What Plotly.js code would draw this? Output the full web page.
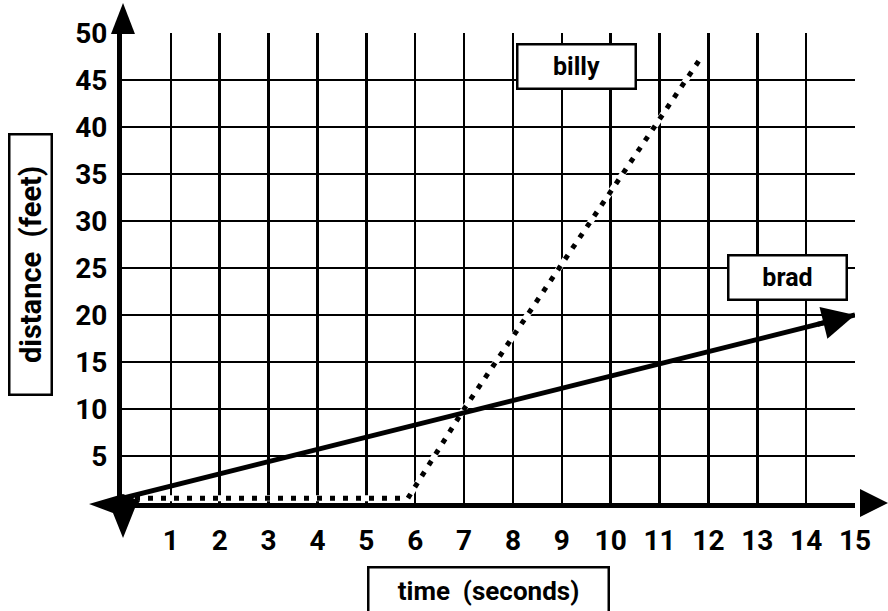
<!DOCTYPE html>
<html>
<head>
<meta charset="utf-8">
<script src="https://cdn.plot.ly/plotly-3.0.1.min.js"></script>
<style>html,body{margin:0;padding:0;background:#fff;}#chart{width:888px;height:611px;}</style>
</head>
<body>
<div id="chart"></div>
<script>
// ---- data ----
const bradX = [0, 15];
const bradY = [0.5, 20];
const billyX = [0, 5.85, 7, 11.8];
const billyY = [0.5, 0.5, 10, 47];
const xTicks = [1,2,3,4,5,6,7,8,9,10,11,12,13,14,15];
const yTicks = [5,10,15,20,25,30,35,40,45,50];
const labels = ['billy', 'brad'];
const labelPos = [[9.3, 46.4], [13.62, 24.0]];
const xTitle = 'time  (seconds)';
const yTitle = 'distance  (feet)';

// ---- layout geometry ----
const W = 888, H = 611;
const M = {l: 122, r: 33, t: 33, b: 108};
const pw = W - M.l - M.r, ph = H - M.t - M.b;
const px = v => (v - M.l) / pw;
const py = v => (H - M.b - v) / ph;
function path(pts){ return 'M ' + pts.map(p => px(p[0]).toFixed(4) + ',' + py(p[1]).toFixed(4)).join(' L ') + ' Z'; }

const FONT = 'Roboto, "DejaVu Sans", sans-serif';

const traces = [
  {x: billyX, y: billyY, mode: 'lines', line: {color: 'white', width: 6}, hoverinfo: 'skip', showlegend: false},
  {x: billyX, y: billyY, mode: 'lines', line: {color: 'black', width: 5, dash: '5px,8px'}, showlegend: false},
  {x: bradX, y: bradY, mode: 'lines', line: {color: 'black', width: 5}, showlegend: false}
];

const annotations = [
  {x: bradX[1], y: bradY[1], ax: bradX[1] - 0.8, ay: bradY[1] - 0.8*(bradY[1]-bradY[0])/(bradX[1]-bradX[0]),
   axref: 'x', ayref: 'y', xref: 'x', yref: 'y', showarrow: true, arrowhead: 2, arrowsize: 1.3, arrowwidth: 5, arrowcolor: 'black', text: ''}
];
labels.forEach((t, i) => {
  annotations.push({x: labelPos[i][0], y: labelPos[i][1], xref: 'x', yref: 'y', text: t, showarrow: false,
    font: {family: FONT, size: 25, color: 'black', weight: 'bold'}, bgcolor: 'white', bordercolor: 'black', borderwidth: 2.5,
    width: 112, height: 38, borderpad: 2, xanchor: 'center', yanchor: 'middle'});
});
annotations.push({x: px(488.5), y: py(590), xref: 'paper', yref: 'paper', text: xTitle, showarrow: false,
  font: {family: FONT, size: 26, color: 'black', weight: 'bold'}, bgcolor: 'white', bordercolor: 'black', borderwidth: 2.5,
  width: 234, height: 40, borderpad: 2, xanchor: 'center', yanchor: 'middle'});
annotations.push({x: px(30.5), y: py(264.5), xref: 'paper', yref: 'paper', text: yTitle, showarrow: false,
  textangle: -90, font: {family: FONT, size: 29, color: 'black', weight: 'bold'}, bgcolor: 'white', bordercolor: 'black', borderwidth: 2.5,
  width: 254, height: 36, borderpad: 2, xanchor: 'center', yanchor: 'middle'});

const shapes = [
  {type: 'path', xref: 'paper', yref: 'paper', path: path([[123,3],[135,34],[111,34]]), fillcolor: 'black', line: {width: 0}},
  {type: 'path', xref: 'paper', yref: 'paper', path: path([[888,503],[860,517],[860,489]]), fillcolor: 'black', line: {width: 0}},
  {type: 'path', xref: 'paper', yref: 'paper', path: path([[89,504],[123,494],[140,501],[135,508],[123,538],[113,513]]), fillcolor: 'black', line: {width: 0}}
];

const axisCommon = {showline: true, linecolor: 'black', linewidth: 5, showgrid: true, gridcolor: 'black', gridwidth: 2.5,
  zeroline: false, ticks: '', tickfont: {family: FONT, size: 28, color: 'black', weight: 'bold'}, fixedrange: true};

const layout = {
  width: W, height: H, margin: M, paper_bgcolor: 'white', plot_bgcolor: 'white', showlegend: false,
  xaxis: Object.assign({}, axisCommon, {range: [0, 15], tickvals: xTicks, ticktext: xTicks.map(String), ticklabelstandoff: 8}),
  yaxis: Object.assign({}, axisCommon, {range: [0, 50], tickvals: yTicks, ticktext: yTicks.map(String), ticklabelstandoff: 4}),
  annotations: annotations, shapes: shapes
};

Plotly.newPlot('chart', traces, layout, {displayModeBar: false, staticPlot: true});
</script>
</body>
</html>
